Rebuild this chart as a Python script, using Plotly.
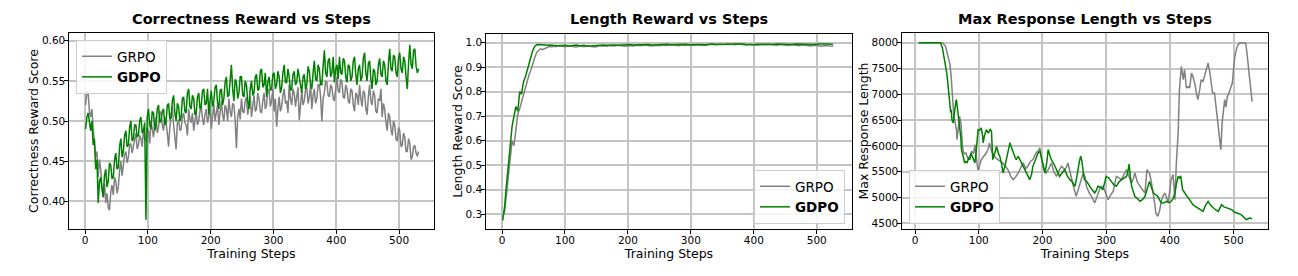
import plotly.graph_objects as go

# ---------------- Panel 1: Correctness reward (every 2 steps) ----------------
corr_steps = list(range(1, 532, 2))
corr_grpo = [
    0.520, 0.537, 0.535, 0.512, 0.505, 0.515, 0.490, 0.470, 0.455, 0.462, 0.430, 0.452, 0.440, 0.418, 0.405, 0.422, 0.398, 0.410, 0.392, 0.389,
    0.412, 0.420, 0.408, 0.430, 0.425, 0.410, 0.418, 0.438, 0.450, 0.432, 0.445, 0.458, 0.462, 0.448, 0.455, 0.470, 0.472, 0.460, 0.468, 0.480,
    0.485, 0.465, 0.470, 0.482, 0.478, 0.468, 0.490, 0.478, 0.475, 0.492, 0.488, 0.472, 0.500, 0.490, 0.480, 0.495, 0.505, 0.485, 0.492, 0.512,
    0.510, 0.495, 0.488, 0.505, 0.498, 0.485, 0.468, 0.492, 0.505, 0.518, 0.495, 0.480, 0.465, 0.498, 0.502, 0.488, 0.490, 0.505, 0.510, 0.498,
    0.495, 0.482, 0.515, 0.502, 0.498, 0.510, 0.488, 0.500, 0.512, 0.495, 0.500, 0.512, 0.520, 0.503, 0.495, 0.508, 0.515, 0.498, 0.505, 0.518,
    0.490, 0.505, 0.522, 0.500, 0.508, 0.520, 0.495, 0.512, 0.525, 0.508, 0.500, 0.520, 0.515, 0.500, 0.528, 0.512, 0.505, 0.522, 0.520, 0.500,
    0.466, 0.505, 0.515, 0.502, 0.528, 0.512, 0.510, 0.525, 0.530, 0.508, 0.518, 0.530, 0.505, 0.520, 0.532, 0.512, 0.515, 0.535, 0.528, 0.512,
    0.510, 0.525, 0.535, 0.515, 0.520, 0.540, 0.538, 0.518, 0.525, 0.540, 0.512, 0.528, 0.493, 0.515, 0.530, 0.512, 0.518, 0.532, 0.540, 0.522,
    0.525, 0.510, 0.545, 0.528, 0.520, 0.540, 0.535, 0.518, 0.528, 0.542, 0.501, 0.525, 0.538, 0.520, 0.525, 0.540, 0.542, 0.522, 0.530, 0.545,
    0.515, 0.532, 0.540, 0.522, 0.528, 0.545, 0.545, 0.530, 0.500, 0.528, 0.535, 0.550, 0.548, 0.532, 0.530, 0.545, 0.542, 0.528, 0.525, 0.540,
    0.555, 0.538, 0.535, 0.552, 0.548, 0.530, 0.528, 0.545, 0.540, 0.525, 0.522, 0.540, 0.538, 0.520, 0.512, 0.535, 0.532, 0.520, 0.545, 0.528,
    0.518, 0.538, 0.535, 0.515, 0.508, 0.530, 0.545, 0.525, 0.520, 0.538, 0.532, 0.512, 0.510, 0.528, 0.525, 0.540, 0.505, 0.522, 0.515, 0.498,
    0.488, 0.510, 0.505, 0.490, 0.482, 0.500, 0.495, 0.478, 0.475, 0.492, 0.488, 0.468, 0.470, 0.485, 0.480, 0.462, 0.462, 0.478, 0.472, 0.452,
    0.455, 0.468, 0.470, 0.460, 0.456, 0.462,
]
corr_gdpo = [
    0.490, 0.505, 0.510, 0.495, 0.488, 0.500, 0.470, 0.478, 0.440, 0.452, 0.398, 0.425, 0.430, 0.415, 0.405, 0.432, 0.440, 0.418, 0.425, 0.448,
    0.445, 0.428, 0.430, 0.452, 0.460, 0.440, 0.442, 0.468, 0.478, 0.455, 0.462, 0.482, 0.488, 0.468, 0.470, 0.492, 0.500, 0.475, 0.478, 0.495,
    0.495, 0.480, 0.482, 0.500, 0.505, 0.485, 0.488, 0.498, 0.377, 0.505, 0.515, 0.495, 0.490, 0.512, 0.510, 0.488, 0.495, 0.515, 0.520, 0.498,
    0.500, 0.512, 0.515, 0.495, 0.498, 0.520, 0.522, 0.502, 0.505, 0.525, 0.532, 0.510, 0.500, 0.522, 0.518, 0.500, 0.505, 0.528, 0.530, 0.512,
    0.510, 0.535, 0.540, 0.518, 0.515, 0.532, 0.528, 0.508, 0.510, 0.530, 0.535, 0.515, 0.518, 0.538, 0.540, 0.520, 0.522, 0.540, 0.508, 0.525,
    0.538, 0.518, 0.525, 0.542, 0.545, 0.522, 0.515, 0.538, 0.540, 0.520, 0.528, 0.548, 0.555, 0.530, 0.532, 0.550, 0.570, 0.540, 0.525, 0.552,
    0.548, 0.528, 0.535, 0.555, 0.555, 0.532, 0.530, 0.550, 0.545, 0.525, 0.515, 0.540, 0.550, 0.532, 0.535, 0.555, 0.558, 0.538, 0.540, 0.562,
    0.565, 0.542, 0.545, 0.560, 0.530, 0.548, 0.555, 0.538, 0.540, 0.558, 0.560, 0.540, 0.545, 0.562, 0.555, 0.535, 0.542, 0.560, 0.570, 0.548,
    0.548, 0.565, 0.555, 0.538, 0.540, 0.558, 0.562, 0.545, 0.548, 0.565, 0.555, 0.540, 0.535, 0.555, 0.558, 0.540, 0.545, 0.568, 0.562, 0.545,
    0.540, 0.560, 0.575, 0.552, 0.550, 0.570, 0.565, 0.545, 0.545, 0.568, 0.588, 0.560, 0.555, 0.575, 0.578, 0.555, 0.560, 0.580, 0.548, 0.565,
    0.570, 0.552, 0.580, 0.560, 0.558, 0.578, 0.575, 0.555, 0.548, 0.570, 0.568, 0.550, 0.555, 0.575, 0.580, 0.558, 0.545, 0.565, 0.570, 0.550,
    0.555, 0.578, 0.585, 0.560, 0.550, 0.572, 0.575, 0.552, 0.540, 0.565, 0.562, 0.545, 0.550, 0.570, 0.578, 0.558, 0.555, 0.575, 0.570, 0.550,
    0.545, 0.572, 0.590, 0.565, 0.562, 0.582, 0.580, 0.560, 0.555, 0.578, 0.585, 0.565, 0.560, 0.580, 0.575, 0.555, 0.540, 0.572, 0.595, 0.570,
    0.565, 0.588, 0.590, 0.568, 0.560, 0.565,
]

# ---------------- Panel 2: Length reward ----------------
len_steps = list(range(1, 90, 3)) + list(range(94, 532, 6))
len_grpo = [
    0.290, 0.310, 0.380, 0.450, 0.530, 0.600, 0.580, 0.660, 0.710, 0.730,
    0.760, 0.790, 0.820, 0.850, 0.870, 0.890, 0.920, 0.940, 0.960, 0.970,
    0.975, 0.972, 0.976, 0.978, 0.982, 0.985, 0.983, 0.986, 0.984, 0.987,
    0.986, 0.984, 0.987, 0.985, 0.983, 0.986, 0.984, 0.987, 0.985, 0.983,
    0.986, 0.988, 0.986, 0.989, 0.987, 0.990, 0.988, 0.986, 0.989, 0.987,
    0.990, 0.988, 0.991, 0.989, 0.987, 0.990, 0.988, 0.991, 0.989, 0.992,
    0.990, 0.988, 0.991, 0.989, 0.992, 0.990, 0.993, 0.991, 0.989, 0.992,
    0.994, 0.992, 0.995, 0.993, 0.996, 0.994, 0.992, 0.995, 0.993, 0.991,
    0.994, 0.992, 0.990, 0.993, 0.991, 0.994, 0.992, 0.990, 0.993, 0.991,
    0.989, 0.992, 0.990, 0.988, 0.991, 0.989, 0.987, 0.990, 0.988, 0.986,
    0.989, 0.987, 0.985,
]
len_gdpo = [
    0.275, 0.330, 0.420, 0.490, 0.580, 0.660, 0.700, 0.740, 0.720, 0.800,
    0.790, 0.840, 0.860, 0.890, 0.920, 0.950, 0.970, 0.985, 0.992, 0.993,
    0.992, 0.993, 0.991, 0.992, 0.990, 0.991, 0.990, 0.989, 0.990, 0.988,
    0.989, 0.990, 0.987, 0.989, 0.991, 0.988, 0.990, 0.986, 0.988, 0.990,
    0.989, 0.991, 0.990, 0.992, 0.991, 0.990, 0.992, 0.991, 0.993, 0.991,
    0.992, 0.990, 0.992, 0.993, 0.991, 0.992, 0.993, 0.992, 0.994, 0.992,
    0.993, 0.991, 0.993, 0.994, 0.992, 0.993, 0.994, 0.993, 0.992, 0.994,
    0.995, 0.993, 0.994, 0.995, 0.996, 0.994, 0.995, 0.996, 0.995, 0.993,
    0.991, 0.992, 0.994, 0.993, 0.995, 0.994, 0.993, 0.995, 0.994, 0.992,
    0.994, 0.993, 0.995, 0.994, 0.993, 0.995, 0.994, 0.993, 0.995, 0.996,
    0.994, 0.995, 0.993,
]

# ---------------- Panel 3: Max response length ----------------
mrl_grpo_steps = [
    6, 20, 43, 48, 52, 55, 57, 59, 61, 63, 65, 66, 68, 70, 72, 73, 75, 77, 80, 83,
    86, 89, 92, 94, 97, 99, 102, 104, 108, 112, 115, 117, 120, 122, 126, 130, 134, 138, 142, 146,
    150, 154, 158, 162, 166, 170, 174, 177, 181, 185, 190, 193, 196, 198, 201, 204, 206, 210, 214, 218,
    222, 226, 230, 235, 238, 240, 243, 245, 249, 253, 256, 258, 261, 264, 267, 269, 273, 277, 282, 285,
    287, 291, 295, 299, 303, 307, 311, 314, 316, 320, 324, 328, 332, 336, 340, 343, 345, 349, 353, 357,
    361, 364, 366, 368, 371, 374, 376, 378, 381, 384, 387, 390, 392, 395, 397, 400, 402, 405, 407, 408,
    410, 413, 415, 418, 421, 423, 426, 429, 431, 434, 436, 439, 442, 444, 447, 449, 452, 455, 458, 460,
    463, 465, 467, 470, 472, 474, 477, 480, 482, 484, 486, 488, 490, 492, 494, 496, 498, 500, 502, 505,
    507, 510, 515, 519, 521, 523, 525, 527, 529,
]
mrl_grpo = [
    8000, 8000, 8000, 7930, 7735, 7574, 7300, 6960, 6573, 6450, 6315, 6120, 6400, 6573, 6450, 6250, 5930, 5850, 5863, 5750,
    5800, 5900, 5850, 6025, 5700, 5508, 5650, 5735, 5800, 5863, 5950, 6060, 5900, 5860, 5780, 5735, 5700, 5670, 5600, 5540,
    5420, 5347, 5400, 5476, 5580, 5670, 5560, 5605, 5700, 5735, 5863, 5900, 5960, 5800, 5605, 5500, 5476, 5560, 5670, 5500,
    5410, 5520, 5605, 5540, 5600, 5670, 5500, 5410, 5200, 5024, 5150, 5218, 5350, 5476, 5400, 5218, 5100, 5024, 4895, 5000,
    5090, 5200, 5218, 5100, 4960, 5050, 5120, 5300, 5410, 5380, 5347, 5450, 5540, 5400, 5280, 5380, 5476, 5300, 5218, 5150,
    5090, 5540, 5500, 5476, 5300, 5090, 4900, 4701, 4637, 4750, 4960, 5050, 5090, 5000, 4895, 5150, 5347, 5444, 5100, 4960,
    5637, 6250, 7090, 7540, 7283, 7477, 7122, 7150, 7122, 7412, 7350, 7219, 7000, 6896, 7100, 7283, 7250, 7380, 7500, 7606,
    7400, 7200, 7025, 7025, 6800, 6573, 6186, 5928, 6444, 6700, 6896, 6750, 6950, 7000, 7090, 7150, 7219, 7500, 7735, 7900,
    7961, 8000, 8000, 7990, 7800, 7542, 7283, 7100, 6860,
]
mrl_gdpo_steps = [
    6, 20, 40, 43, 46, 48, 50, 52, 54, 56, 57, 58, 60, 62, 64, 65, 66, 68, 69, 70,
    72, 73, 75, 78, 80, 82, 84, 86, 88, 90, 92, 94, 96, 99, 101, 104, 106, 107, 109, 112,
    115, 118, 120, 122, 125, 128, 131, 133, 136, 138, 141, 143, 146, 149, 152, 154, 157, 159, 162, 166,
    170, 173, 175, 178, 180, 183, 185, 188, 191, 193, 196, 198, 201, 204, 207, 209, 212, 214, 218, 222,
    225, 227, 231, 235, 239, 243, 247, 251, 254, 256, 258, 260, 262, 264, 266, 270, 274, 278, 282, 285,
    287, 291, 295, 298, 300, 304, 308, 312, 316, 320, 324, 328, 332, 334, 336, 338, 340, 343, 345, 349,
    353, 357, 361, 364, 366, 368, 371, 374, 378, 381, 384, 387, 391, 395, 399, 402, 405, 408, 410, 413,
    415, 417, 420, 423, 427, 431, 434, 436, 440, 444, 448, 452, 456, 460, 464, 468, 472, 476, 478, 481,
    485, 489, 493, 497, 501, 505, 509, 512, 516, 520, 523, 525, 529,
]
mrl_gdpo = [
    8000, 8000, 8000, 7900, 7670, 7574, 7400, 7154, 6830, 6650, 6700, 6500, 6444, 6700, 6850, 6900, 6800, 6640, 6500, 6380,
    6150, 5930, 5800, 5670, 5700, 5680, 5760, 5735, 5860, 5800, 5750, 5670, 5900, 6315, 6300, 6350, 6200, 6060, 6200, 6315,
    6250, 6320, 6290, 5735, 5850, 5990, 5850, 5800, 5650, 5476, 5600, 5735, 5900, 6060, 5950, 5860, 5780, 5735, 5800, 5700,
    5605, 5550, 5476, 5400, 5347, 5450, 5605, 5700, 5800, 5860, 5900, 5800, 5600, 5476, 5700, 5930, 5800, 5735, 5650, 5540,
    5480, 5410, 5480, 5540, 5420, 5347, 5300, 5218, 5400, 5605, 5700, 5800, 5700, 5500, 5347, 5300, 5218, 5150, 5090, 5150,
    5218, 5200, 5153, 5300, 5410, 5380, 5314, 5250, 5218, 5300, 5347, 5380, 5410, 5500, 5650, 5400, 5218, 5100, 5024, 4980,
    4927, 4960, 5024, 5150, 5250, 5314, 5200, 5090, 5050, 5024, 4950, 4895, 4900, 4927, 4900, 4927, 4980, 5090, 5250, 5410,
    5380, 5420, 5153, 5090, 5020, 4960, 4900, 4863, 4830, 4798, 4760, 4733, 4850, 4927, 4850, 4798, 4760, 4733, 4800, 4863,
    4820, 4800, 4780, 4766, 4720, 4701, 4680, 4670, 4620, 4572, 4590, 4605, 4590,
]

titles = ["Correctness Reward vs Steps", "Length Reward vs Steps", "Max Response Length vs Steps"]
ylabels = ["Correctness Reward Score", "Length Reward Score", "Max Response Length"]
xlabel = "Training Steps"
names = ["GRPO", "<b>GDPO</b>"]

GRAY = "#808080"
GREEN = "#008000"
W, H = 1298, 276

fig = go.Figure()
panels = [
    (corr_steps, corr_grpo, corr_steps, corr_gdpo),
    (len_steps, len_grpo, len_steps, len_gdpo),
    (mrl_grpo_steps, mrl_grpo, mrl_gdpo_steps, mrl_gdpo),
]
for i, (xg, yg, xd, yd) in enumerate(panels):
    sfx = "" if i == 0 else str(i + 1)
    lg = "legend" + sfx
    fig.add_trace(go.Scatter(x=xg, y=yg, mode="lines", name=names[0],
                             line=dict(color=GRAY, width=1.5),
                             xaxis="x" + sfx, yaxis="y" + sfx, legend=lg))
    fig.add_trace(go.Scatter(x=xd, y=yd, mode="lines", name=names[1],
                             line=dict(color=GREEN, width=1.5),
                             xaxis="x" + sfx, yaxis="y" + sfx, legend=lg))

# plot-area boxes in pixels (left, right, top, bottom)
boxes = [(69, 434, 33, 229), (486, 852, 34, 229), (902, 1268, 33, 229)]
yranges = [[0.3655, 0.6096], [0.24, 1.0355], [4391, 8188]]
xranges = [[-25.5, 555.5], [-25.5, 556], [-20.4, 554]]
ytickvals = [[0.40, 0.45, 0.50, 0.55, 0.60],
             [0.3, 0.4, 0.5, 0.6, 0.7, 0.8, 0.9, 1.0],
             [4500, 5000, 5500, 6000, 6500, 7000, 7500, 8000]]
ytickfmt = [".2f", ".1f", "d"]

axis_common = dict(showline=True, linecolor="black", linewidth=1.2, mirror=True,
                   showgrid=True, gridcolor="#c4c4c4", gridwidth=1.5,
                   zeroline=False, ticks="outside", ticklen=3.5, tickwidth=1,
                   tickcolor="black",
                   tickfont=dict(family="DejaVu Sans", size=10.5, color="black"))

annotations = []
for i, (l, r, t, b) in enumerate(boxes):
    sfx = "" if i == 0 else str(i + 1)
    xd = [l / W, r / W]
    yd = [1 - b / H, 1 - t / H]
    fig.layout["xaxis" + sfx] = dict(
        domain=xd, anchor="y" + sfx, range=xranges[i],
        tickvals=[0, 100, 200, 300, 400, 500], ticklabelstandoff=-2,
        title=dict(text=xlabel, font=dict(family="DejaVu Sans", size=12.5, color="black"),
                   standoff=0),
        **axis_common)
    fig.layout["yaxis" + sfx] = dict(
        domain=yd, anchor="x" + sfx, range=yranges[i],
        tickvals=ytickvals[i], tickformat=ytickfmt[i], ticklabelstandoff=-3,
        title=dict(text=ylabels[i], font=dict(family="DejaVu Sans", size=12.5, color="black"),
                   standoff=0),
        **axis_common)
    annotations.append(dict(text="<b>" + titles[i] + "</b>", xref="paper", yref="paper",
                            x=(l + r) / 2 / W, y=1 - 19 / H, xanchor="center", yanchor="middle",
                            showarrow=False,
                            font=dict(family="DejaVu Sans", size=14.5, color="black")))

legend_common = dict(bgcolor="rgba(255,255,255,0.85)", bordercolor="#cccccc", borderwidth=1,
                     font=dict(family="DejaVu Sans", size=13.5, color="black"),
                     itemwidth=30, tracegroupgap=0)
fig.update_layout(
    width=W, height=H,
    margin=dict(l=0, r=0, t=0, b=0),
    paper_bgcolor="white", plot_bgcolor="white",
    showlegend=True,
    annotations=annotations,
    legend=dict(x=76 / W, y=1 - 40 / H, xanchor="left", yanchor="top", **legend_common),
    legend2=dict(x=845 / W, y=1 - 224 / H, xanchor="right", yanchor="bottom", **legend_common),
    legend3=dict(x=909 / W, y=1 - 224 / H, xanchor="left", yanchor="bottom", **legend_common),
)

fig.write_html("out.html")
